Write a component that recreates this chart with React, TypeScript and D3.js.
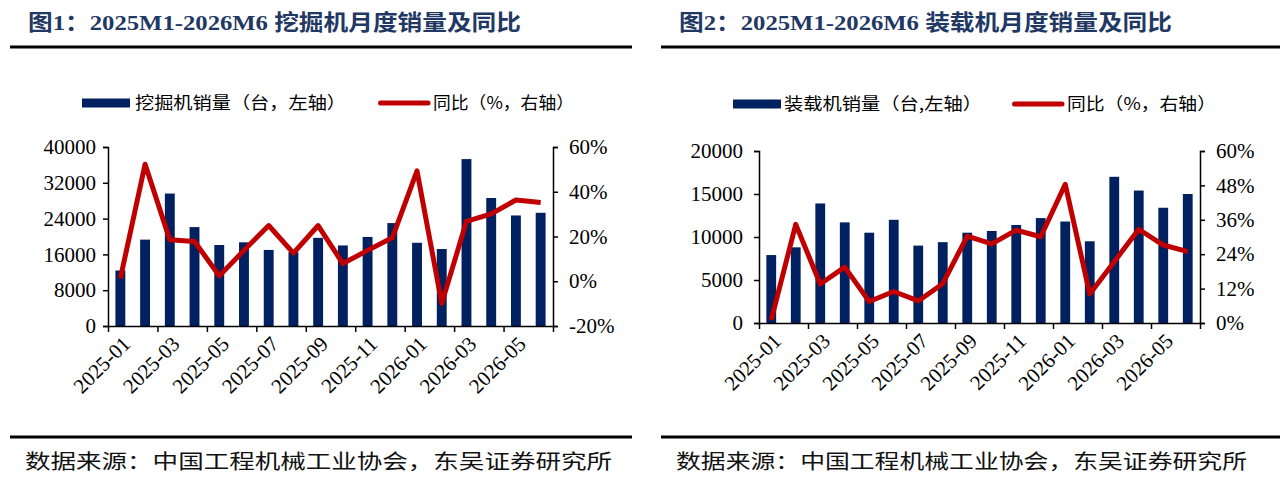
import { useEffect, useRef } from "react";
import * as d3 from "d3";

// Monthly sales (units) and year-on-year growth (%)
const months = [
  "2025-01", "2025-02", "2025-03", "2025-04", "2025-05", "2025-06",
  "2025-07", "2025-08", "2025-09", "2025-10", "2025-11", "2025-12",
  "2026-01", "2026-02", "2026-03", "2026-04", "2026-05", "2026-06",
];

const excavatorSales = [
  12400, 19300, 29600, 22100, 18100, 18700, 17000, 16500, 19700,
  18000, 19900, 23000, 18600, 17200, 37300, 28600, 24700, 25300,
];
const excavatorYoy = [
  1.2, 52.3, 18.5, 17.8, 2.4, 13.8, 24.9, 12.6, 24.9,
  7.9, 13.8, 19.4, 49.3, -9.9, 26.8, 30.1, 36.3, 35.2,
];

const loaderSales = [
  7900, 8800, 13900, 11700, 10500, 12000, 9000, 9400, 10500,
  10700, 11400, 12200, 11800, 9500, 17000, 15400, 13400, 15000,
];
const loaderYoy = [
  1.1, 34.4, 13.6, 19.5, 7.5, 11.0, 7.7, 13.7, 30.3,
  27.6, 32.4, 30.1, 48.4, 10.1, 21.4, 32.7, 27.2, 24.9,
];

const excavatorTicks = [0, 8000, 16000, 24000, 32000, 40000];
const excavatorYoyTicks = [-20, 0, 20, 40, 60];
const loaderTicks = [0, 5000, 10000, 15000, 20000];
const loaderYoyTicks = [0, 12, 24, 36, 48, 60];

const NAVY = "#002060";
const RED = "#C00000";
const TITLE = "#1F3864";
const SERIF = "'Liberation Serif', 'DejaVu Serif', serif";
const CJK = "'Noto Sans CJK SC', sans-serif";
const TITLE_FONT = "'Liberation Serif', 'Noto Sans CJK SC', serif";
const TICK_SIZE = 21;

interface Panel {
  left: number;
  right: number;
  title: string;
  titleWidth: number;
  barLabel: string;
  sales: number[];
  yoy: number[];
  salesTicks: number[];
  yoyTicks: number[];
  plot: { x0: number; x1: number; top: number; bottom: number };
  leftPad: number;
  legend: { rectX: number; textX: number; textW: number; lineX: number; yoyX: number; yoyW: number; y: number };
  sourceX: number;
  sourceW: number;
}

const panels: Panel[] = [
  {
    left: 10,
    right: 632,
    title: "图1：2025M1-2026M6 挖掘机月度销量及同比",
    titleWidth: 493,
    barLabel: "挖掘机销量（台，左轴）",
    sales: excavatorSales,
    yoy: excavatorYoy,
    salesTicks: excavatorTicks,
    yoyTicks: excavatorYoyTicks,
    plot: { x0: 108, x1: 553, top: 147, bottom: 326 },
    leftPad: 7,
    legend: { rectX: 82, textX: 135, textW: 211, lineX: 378, yoyX: 433, yoyW: 141, y: 103 },
    sourceX: 25,
    sourceW: 587,
  },
  {
    left: 661,
    right: 1280,
    title: "图2：2025M1-2026M6 装载机月度销量及同比",
    titleWidth: 493,
    barLabel: "装载机销量（台,左轴）",
    sales: loaderSales,
    yoy: loaderYoy,
    salesTicks: loaderTicks,
    yoyTicks: loaderYoyTicks,
    plot: { x0: 759, x1: 1200, top: 151, bottom: 323 },
    leftPad: 11,
    legend: { rectX: 733, textX: 784, textW: 198, lineX: 1012, yoyX: 1067, yoyW: 149, y: 104 },
    sourceX: 676,
    sourceW: 571,
  },
];

function drawPanel(svg: d3.Selection<SVGSVGElement, unknown, null, undefined>, p: Panel) {
  const g = svg.append("g");

  // Heading and rules
  g.append("text")
    .attr("x", p.left + 18)
    .attr("y", 30)
    .attr("fill", TITLE)
    .style("font-family", TITLE_FONT)
    .attr("font-weight", "bold")
    .attr("font-size", 22)
    .attr("textLength", p.titleWidth)
    .attr("lengthAdjust", "spacingAndGlyphs")
    .text(p.title);
  g.append("line")
    .attr("x1", p.left).attr("x2", p.right)
    .attr("y1", 47).attr("y2", 47)
    .attr("stroke", "#000").attr("stroke-width", 3);
  g.append("line")
    .attr("x1", p.left).attr("x2", p.right)
    .attr("y1", 437).attr("y2", 437)
    .attr("stroke", "#000").attr("stroke-width", 3);
  g.append("text")
    .attr("x", p.sourceX)
    .attr("y", 469)
    .attr("fill", "#111")
    .style("font-family", CJK)
    .attr("font-size", 20)
    .attr("textLength", p.sourceW)
    .attr("lengthAdjust", "spacingAndGlyphs")
    .text("数据来源：中国工程机械工业协会，东吴证券研究所");

  // Scales
  const x = d3.scaleBand<string>().domain(months).range([p.plot.x0, p.plot.x1]);
  const ySales = d3
    .scaleLinear()
    .domain([p.salesTicks[0], p.salesTicks[p.salesTicks.length - 1]])
    .range([p.plot.bottom, p.plot.top]);
  const yYoy = d3
    .scaleLinear()
    .domain([p.yoyTicks[0], p.yoyTicks[p.yoyTicks.length - 1]])
    .range([p.plot.bottom, p.plot.top]);

  // Bars
  const barW = x.bandwidth() * 0.4;
  g.selectAll(".bar")
    .data(p.sales)
    .enter()
    .append("rect")
    .attr("class", "bar")
    .attr("x", (_, i) => (x(months[i]) as number) + (x.bandwidth() - barW) / 2)
    .attr("y", (d) => ySales(d))
    .attr("width", barW)
    .attr("height", (d) => ySales(0) - ySales(d))
    .attr("fill", NAVY);

  // Axes
  const styleAxis = (a: d3.Selection<SVGGElement, unknown, null, undefined>) => {
    a.attr("font-family", null).attr("font-size", null);
    a.select(".domain").attr("stroke", "#000").attr("stroke-width", 1.5);
    a.selectAll(".tick line").attr("stroke", "#000").attr("stroke-width", 1.5);
    a.selectAll("text").style("font-family", SERIF).style("font-size", `${TICK_SIZE}px`).attr("fill", "#000");
  };

  const leftAxis = g
    .append("g")
    .attr("transform", `translate(${p.plot.x0},0)`)
    .call(d3.axisLeft(ySales).tickValues(p.salesTicks).tickSize(5).tickSizeOuter(5).tickPadding(p.leftPad).tickFormat(d3.format("d")));
  styleAxis(leftAxis);

  const rightAxis = g
    .append("g")
    .attr("transform", `translate(${p.plot.x1},0)`)
    .call(d3.axisRight(yYoy).tickValues(p.yoyTicks).tickSize(5).tickSizeOuter(5).tickPadding(11).tickFormat((d) => `${d}%`));
  styleAxis(rightAxis);

  // Category boundaries every two months
  const xTicks = months.filter((_, i) => i % 2 === 0);
  const bottomAxis = g
    .append("g")
    .attr("transform", `translate(0,${p.plot.bottom})`)
    .call(
      d3
        .axisBottom(d3.scalePoint<string>().domain([...xTicks, "end"]).range([p.plot.x0, p.plot.x1]))
        .tickSize(6)
        .tickSizeOuter(0)
        .tickFormat(() => "")
    );
  styleAxis(bottomAxis);

  g.selectAll(".xlabel")
    .data(xTicks)
    .enter()
    .append("text")
    .attr("class", "xlabel")
    .attr("transform", (d) => `translate(${(x(d) as number) + x.bandwidth() / 2 + 6},${p.plot.bottom + 14}) rotate(-45)`)
    .attr("text-anchor", "end")
    .style("font-family", SERIF)
    .style("font-size", `${TICK_SIZE}px`)
    .attr("dy", "0.35em")
    .text((d) => d);

  // YoY line
  const line = d3
    .line<number>()
    .x((_, i) => (x(months[i]) as number) + x.bandwidth() / 2)
    .y((d) => yYoy(d));
  g.append("path")
    .datum(p.yoy)
    .attr("fill", "none")
    .attr("stroke", RED)
    .attr("stroke-width", 5)
    .attr("stroke-linejoin", "round")
    .attr("d", line);

  // Legend
  const L = p.legend;
  g.append("rect")
    .attr("x", L.rectX)
    .attr("y", L.y - 4.5)
    .attr("width", 48)
    .attr("height", 9)
    .attr("fill", NAVY);
  g.append("text")
    .attr("x", L.textX)
    .attr("y", L.y)
    .attr("dy", "0.36em")
    .style("font-family", CJK)
    .attr("font-size", 17)
    .attr("textLength", L.textW)
    .attr("lengthAdjust", "spacingAndGlyphs")
    .text(p.barLabel);
  g.append("line")
    .attr("x1", L.lineX + 2.5)
    .attr("x2", L.lineX + 50)
    .attr("y1", L.y)
    .attr("y2", L.y)
    .attr("stroke", RED)
    .attr("stroke-width", 5)
    .attr("stroke-linecap", "round");
  g.append("text")
    .attr("x", L.yoyX)
    .attr("y", L.y)
    .attr("dy", "0.36em")
    .style("font-family", CJK)
    .attr("font-size", 17)
    .attr("textLength", L.yoyW)
    .attr("lengthAdjust", "spacingAndGlyphs")
    .text("同比（%，右轴）");
}

export default function App() {
  const svgRef = useRef<SVGSVGElement>(null);

  useEffect(() => {
    document.body.style.margin = "0";
    if (!svgRef.current) return;
    const svg = d3.select(svgRef.current);
    svg.selectAll("*").remove();
    svg.append("rect").attr("width", 1280).attr("height", 486).attr("fill", "#fff");
    panels.forEach((p) => drawPanel(svg, p));
  }, []);

  return <svg ref={svgRef} width={1280} height={486} style={{ display: "block" }} />;
}
